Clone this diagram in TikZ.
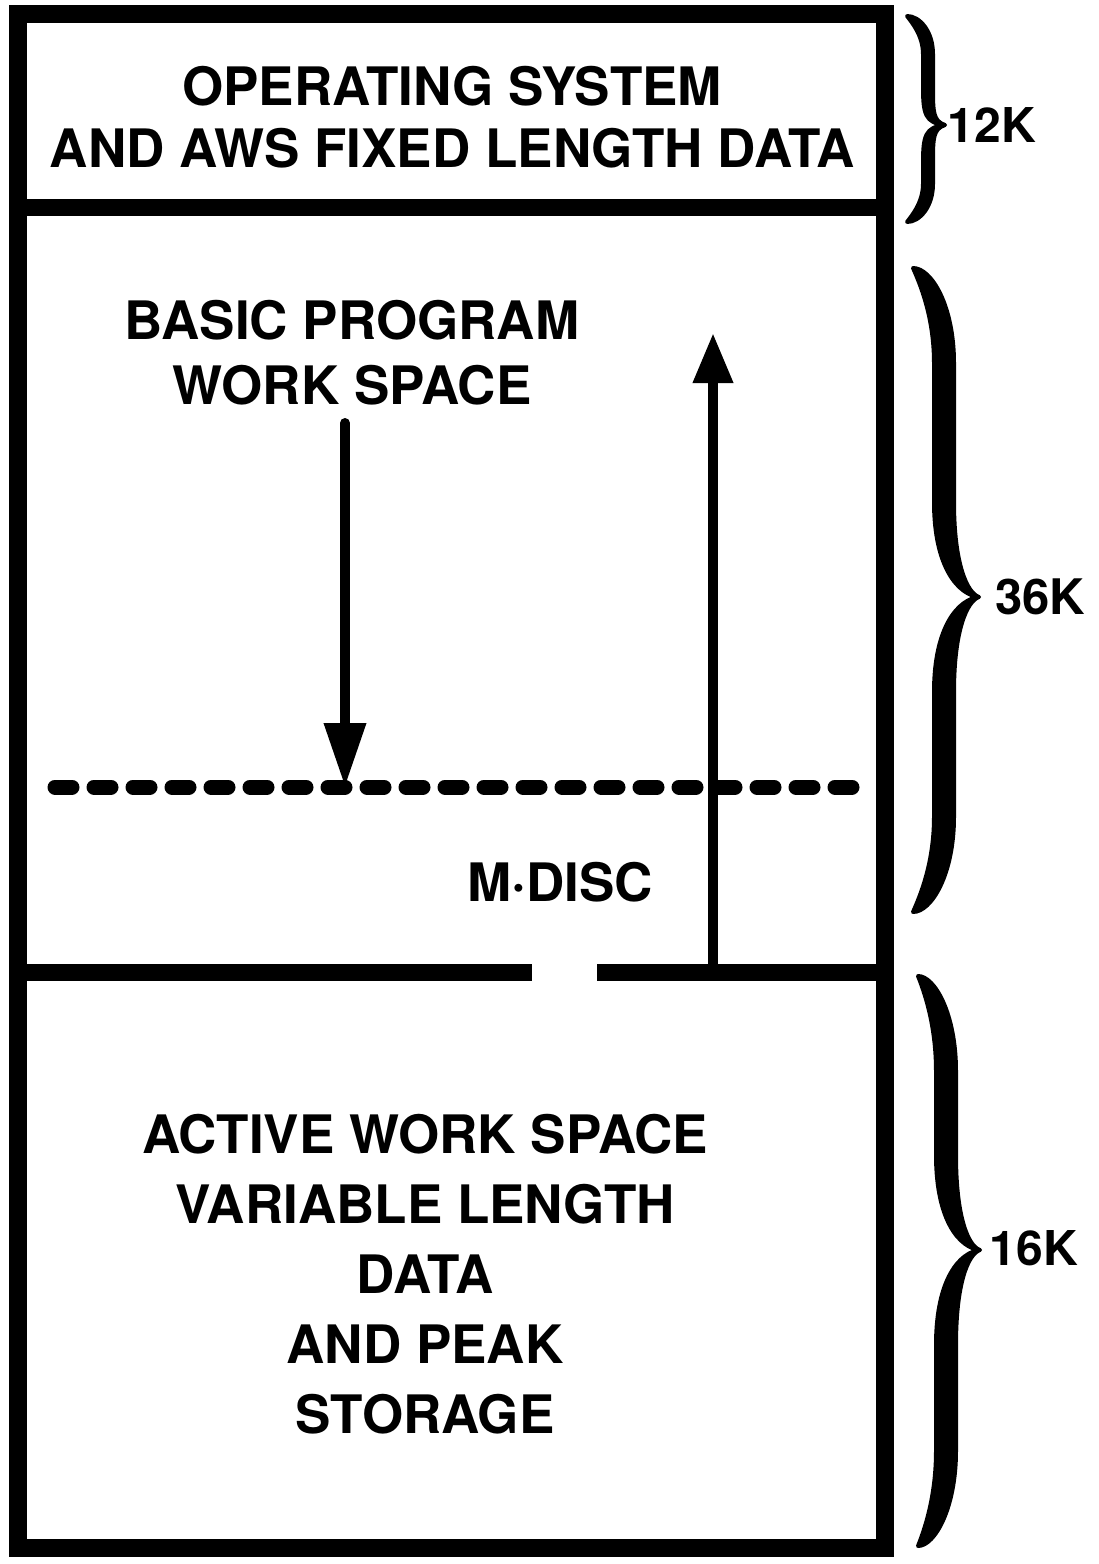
\documentclass[tikz,border=0pt]{standalone}
\usepackage{fontspec}
\setmainfont{TeX Gyre Heros}
\usetikzlibrary{arrows.meta}
% brace: #1 x of ends, #2 top y, #3 bottom y, #4 tip y, #5 arm centre x, #6 half thickness, #7 tip x, #8 curve length
\newcommand\memBrace[8]{%
 \fill[draw=black,line width=4pt,line join=round]
 (#1,#2) .. controls ({#1+0.6*(#5-#1)},{#2}) and ({#5+#6},{#2+0.4*#8}) .. ({#5+#6},{#2+#8})
 -- ({#5+#6},{#4-#8}) .. controls ({#5+#6},{#4-0.35*#8}) and ({#7-12},{#4-4}) .. (#7,#4)
 .. controls ({#7-12},{#4+4}) and ({#5+#6},{#4+0.35*#8}) .. ({#5+#6},{#4+#8})
 -- ({#5+#6},{#3-#8}) .. controls ({#5+#6},{#3-0.4*#8}) and ({#1+0.6*(#5-#1)},{#3}) .. (#1,#3)
 .. controls ({#1+0.2*(#5-#1)},{#3-0.15*#8}) and ({#5-#6},{#3-0.5*#8}) .. ({#5-#6},{#3-#8})
 -- ({#5-#6},{#4+#8}) .. controls ({#5-#6},{#4+0.3*#8}) and ({#7-20},{#4+2}) .. (#7,#4)
 .. controls ({#7-20},{#4-2}) and ({#5-#6},{#4-0.3*#8}) .. ({#5-#6},{#4-#8})
 -- ({#5-#6},{#2+#8}) .. controls ({#5-#6},{#2+0.5*#8}) and ({#1+0.2*(#5-#1)},{#2+0.15*#8}) .. (#1,#2) -- cycle;}
\tikzset{
  border/.style={line width=18pt},
  divider/.style={line width=17pt},
  boxtext/.style={font=\fontsize{53}{63}\selectfont\bfseries, align=center, inner sep=0pt},
  sizelabel/.style={font=\fontsize{48}{56}\selectfont\bfseries, inner sep=0pt},
  flow/.style={line width=10pt},
}
\begin{document}
\begin{tikzpicture}[x=1pt,y=-1pt]
\useasboundingbox (0,0) rectangle (1099,1564);
\fill[white] (0,0) rectangle (1099,1564);

% outer frame and dividers
\draw[border] (17.5,14) rectangle (885,1548);
\coordinate (d1L) at (17.5,207);
\coordinate (d1R) at (885,207);
\draw[divider] (d1L) -- (d1R);
\coordinate (d2L) at (17.5,972);
\coordinate (d2a) at (532,972);
\coordinate (d2b) at (597,972);
\coordinate (d2R) at (885,972);
\draw[divider] (d2L) -- (d2a);
\draw[divider] (d2b) -- (d2R);

% dashed M-DISC boundary
\coordinate (dashL) at (55,787);
\coordinate (dashR) at (852,787);
\draw[line width=15pt, line cap=round, dash pattern=on 17pt off 22pt] (dashL) -- (dashR);

% texts
\node[boxtext, anchor=north] (os) at (452,66) {OPERATING SYSTEM\\[-0.5pt]AND AWS FIXED LENGTH DATA};
\node[boxtext, anchor=north, font=\fontsize{53}{65}\selectfont\bfseries] (basic) at (352,300) {BASIC PROGRAM\\WORK SPACE};
\node[boxtext] (mdisc) at (560,882) {M·DISC};
\node[boxtext, anchor=north, font=\fontsize{53}{70}\selectfont\bfseries] (active) at (425,1114) {ACTIVE WORK SPACE\\VARIABLE LENGTH\\DATA\\AND PEAK\\STORAGE};

% arrows
\coordinate (dnStart) at (345,423);
\coordinate (dnEnd) at (345,787);
\draw[flow, line cap=round, -{Triangle[length=64pt,width=40pt]}] (dnStart) -- (dnEnd);
\coordinate (upStart) at (713,972);
\coordinate (upEnd) at (713,333);
\draw[flow, -{Triangle[length=50pt,width=38pt]}] (upStart) -- (upEnd);

% braces and sizes
\memBrace{907}{16}{222}{125}{928}{5}{945}{38}
\node[sizelabel] (k12) at (992,125) {12K};
\memBrace{913}{268}{912}{597}{944}{10}{979}{95}
\node[sizelabel, font=\fontsize{49}{56}\selectfont\bfseries] (k36) at (1040,597) {36K};
\memBrace{918}{976}{1546}{1250}{946}{10}{980}{95}
\node[sizelabel] (k16) at (1034,1248) {16K};
\end{tikzpicture}
\end{document}
